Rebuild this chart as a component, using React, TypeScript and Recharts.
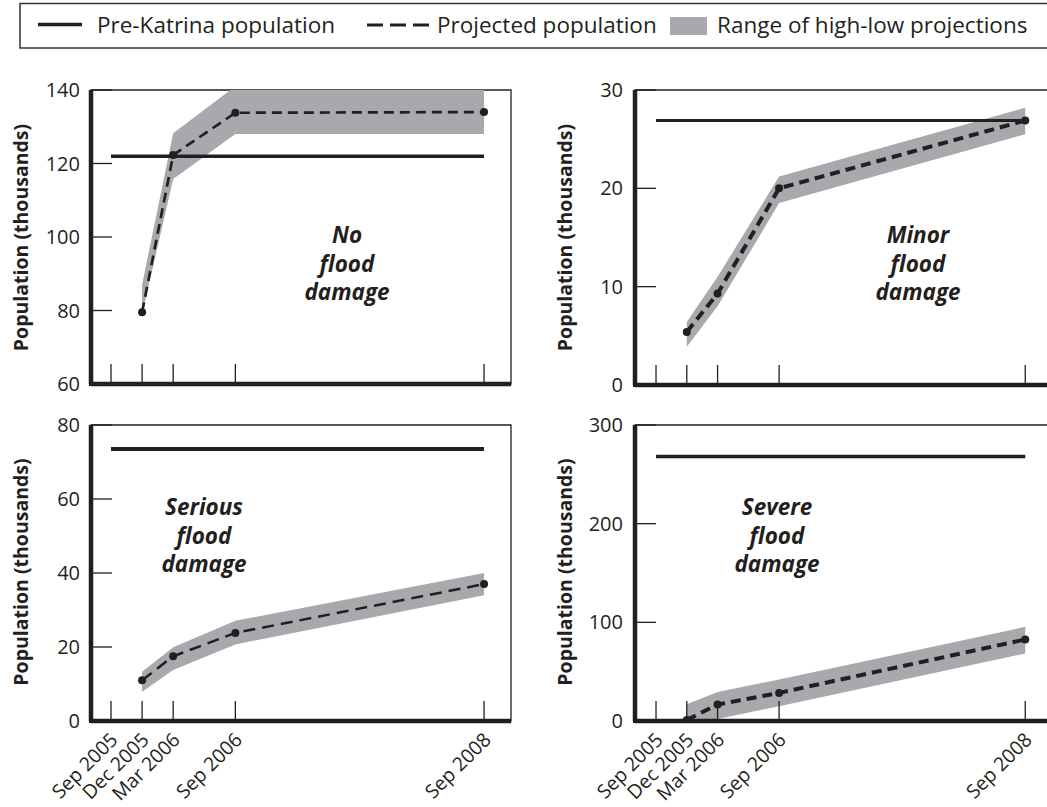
import React from 'react';
import { ComposedChart, Area, Line, XAxis, YAxis, ReferenceArea } from 'recharts';

// months after Sep 2005
const months = [0, 3, 6, 12, 36];
const monthLabels = ['Sep 2005', 'Dec 2005', 'Mar 2006', 'Sep 2006', 'Sep 2008'];

const noFloodPre = 122;
const noFloodProjected = [null, 79.5, 122.3, 133.8, 134];
const noFloodLow = [null, 79, 115.8, 128, 128];
const noFloodHigh = [null, 87, 128.2, 141, 141];

const minorPre = 26.9;
const minorProjected = [null, 5.4, 9.3, 20, 26.9];
const minorLow = [null, 3.9, 8, 18.5, 25.5];
const minorHigh = [null, 6.4, 11, 21.2, 28.2];

const seriousPre = 73.5;
const seriousProjected = [null, 11, 17.5, 23.8, 37];
const seriousLow = [null, 7.9, 13.8, 20.7, 34];
const seriousHigh = [null, 13.3, 19.9, 27.1, 40];

const severePre = 268;
const severeProjected = [null, 1, 16.7, 28.5, 82.6];
const severeLow = [null, 0, 2, 15, 68.4];
const severeHigh = [null, 17, 29.5, 42, 95.4];

const legendLabels = ['Pre-Katrina population', 'Projected population', 'Range of high-low projections'];
const yAxisTitle = 'Population (thousands)';

const INK = '#231f20';
const BAND = '#a7a9ac';
const FONT = '"Open Sans", sans-serif';

function buildRows(pre: number, projected: (number | null)[], low: (number | null)[], high: (number | null)[]) {
  return months.map((m, i) => ({
    month: m,
    pre,
    projected: projected[i],
    range: low[i] == null ? null : [low[i], high[i]],
  }));
}

const panels = [
  {
    key: 'no',
    title: ['No', 'flood', 'damage'],
    rows: buildRows(noFloodPre, noFloodProjected, noFloodLow, noFloodHigh),
    yDomain: [60, 140], yTicks: [60, 80, 100, 120, 140],
    left: 0, top: 60, width: 520, height: 340,
    margin: { top: 30, right: 9, bottom: 0, left: 0 },
    yAxisWidth: 91, xAxisHeight: 16, xDomain: [-1.93, 38.6],
    labelGap: 11, showX: false,
    preWidth: 3.5, projWidth: 2.7, dash: '10 6',
    titleX: 347, titleY: 243,
  },
  {
    key: 'minor',
    title: ['Minor', 'flood', 'damage'],
    rows: buildRows(minorPre, minorProjected, minorLow, minorHigh),
    yDomain: [0, 30], yTicks: [0, 10, 20, 30],
    left: 520, top: 60, width: 535, height: 340,
    margin: { top: 30, right: 0, bottom: 0, left: 0 },
    yAxisWidth: 115, xAxisHeight: 15, xDomain: [-2.05, 38.9],
    labelGap: 12, showX: false,
    preWidth: 3, projWidth: 4, dash: '10 6',
    titleX: 918, titleY: 243,
  },
  {
    key: 'serious',
    title: ['Serious', 'flood', 'damage'],
    rows: buildRows(seriousPre, seriousProjected, seriousLow, seriousHigh),
    yDomain: [0, 80], yTicks: [0, 20, 40, 60, 80],
    left: 0, top: 400, width: 520, height: 407,
    margin: { top: 25, right: 9, bottom: 0, left: 0 },
    yAxisWidth: 91, xAxisHeight: 86, xDomain: [-1.93, 38.6],
    labelGap: 11, showX: true,
    preWidth: 4, projWidth: 2.5, dash: '12 7',
    titleX: 204, titleY: 515,
  },
  {
    key: 'severe',
    title: ['Severe', 'flood', 'damage'],
    rows: buildRows(severePre, severeProjected, severeLow, severeHigh),
    yDomain: [0, 300], yTicks: [0, 100, 200, 300],
    left: 520, top: 400, width: 535, height: 407,
    margin: { top: 25, right: 0, bottom: 0, left: 0 },
    yAxisWidth: 115, xAxisHeight: 86, xDomain: [-2.05, 38.9],
    labelGap: 12, showX: true,
    preWidth: 3.5, projWidth: 4, dash: '10 6',
    titleX: 777, titleY: 515,
  },
];

const XTick = (props: any) => {
  const { x, y, payload, showLabel } = props;
  const label = monthLabels[months.indexOf(payload.value)];
  const tx = x + 8;
  const ty = y + 20;
  return (
    <g>
      <line x1={x} y1={y} x2={x} y2={y - 20} stroke={INK} strokeWidth={1.3} />
      {showLabel && (
        <text x={tx} y={ty} transform={`rotate(-45 ${tx} ${ty})`} textAnchor="end"
          fontSize={19.5} fill={INK} fontFamily={FONT}>{label}</text>
      )}
    </g>
  );
};

const YTick = (props: any) => {
  const { x, y, payload, gap } = props;
  return (
    <g>
      <line x1={x} y1={y} x2={x + 21} y2={y} stroke={INK} strokeWidth={1.3} />
      <text x={x - gap} y={y + 7} textAnchor="end" fontSize={20} fill={INK} fontFamily={FONT}>
        {payload.value}
      </text>
    </g>
  );
};

function Panel({ cfg }: { cfg: any }) {
  return (
    <div style={{ position: 'absolute', left: cfg.left, top: cfg.top }}>
      <ComposedChart width={cfg.width} height={cfg.height} data={cfg.rows} margin={cfg.margin}>
        <ReferenceArea x1={cfg.xDomain[0]} x2={cfg.xDomain[1]} y1={cfg.yDomain[0]} y2={cfg.yDomain[1]}
          fill="none" stroke={INK} strokeWidth={1.3} />
        <XAxis type="number" dataKey="month" domain={cfg.xDomain} allowDataOverflow ticks={months}
          interval={0} tickSize={0} tickMargin={0} tickLine={false}
          axisLine={{ stroke: INK, strokeWidth: 4.5 }}
          height={cfg.xAxisHeight}
          tick={(p: any) => <XTick {...p} showLabel={cfg.showX} />} />
        <YAxis type="number" domain={cfg.yDomain} allowDataOverflow ticks={cfg.yTicks} interval={0}
          width={cfg.yAxisWidth} tickSize={0} tickMargin={0} tickLine={false}
          axisLine={{ stroke: INK, strokeWidth: 4.5 }}
          tick={(p: any) => <YTick {...p} gap={cfg.labelGap} />} />
        <Area dataKey="range" type="linear" fill={BAND} fillOpacity={1} stroke="none"
          isAnimationActive={false} />
        <Line dataKey="pre" type="linear" stroke={INK} strokeWidth={cfg.preWidth} dot={false}
          isAnimationActive={false} />
        <Line dataKey="projected" type="linear" stroke={INK} strokeWidth={cfg.projWidth}
          strokeDasharray={cfg.dash} dot={{ r: 4, fill: INK, stroke: 'none' }}
          isAnimationActive={false} />
      </ComposedChart>
    </div>
  );
}

// heavy left/bottom frame of each panel, taken from the panel layout
function AxisFrame({ cfg }: { cfg: any }) {
  const x0 = cfg.left + cfg.margin.left + cfg.yAxisWidth;
  const x1 = cfg.left + cfg.width - cfg.margin.right;
  const y0 = cfg.top + cfg.margin.top;
  const y1 = cfg.top + cfg.height - cfg.margin.bottom - cfg.xAxisHeight;
  return (
    <path d={`M${x0} ${y0} L${x0} ${y1} L${x1} ${y1}`} fill="none" stroke={INK} strokeWidth={4}
      strokeLinejoin="miter" />
  );
}

export default function App() {
  return (
    <div style={{
      position: 'absolute', left: 0, top: 0, width: 1047, height: 807,
      overflow: 'hidden', background: '#fff', fontFamily: FONT,
    }}>
      {panels.map((cfg) => <Panel key={cfg.key} cfg={cfg} />)}
      <svg width={1047} height={807} style={{ position: 'absolute', left: 0, top: 0, pointerEvents: 'none' }}
        fontFamily={FONT}>
        {panels.map((cfg) => <AxisFrame key={cfg.key} cfg={cfg} />)}

        {/* legend */}
        <rect x={20} y={3.5} width={1100} height={44.5} fill="none" stroke="#333" strokeWidth={1.5} />
        <line x1={38} x2={82} y1={24.5} y2={24.5} stroke={INK} strokeWidth={3.5} />
        <text x={97} y={33} fontSize={22.5} fill={INK}>{legendLabels[0]}</text>
        <line x1={367} x2={430} y1={25} y2={25} stroke={INK} strokeWidth={3} strokeDasharray="16 7" />
        <text x={437} y={33} fontSize={22.5} fill={INK}>{legendLabels[1]}</text>
        <rect x={670} y={17} width={37} height={18} fill={BAND} />
        <text x={717} y={33} fontSize={22.5} fill={INK}>{legendLabels[2]}</text>

        {/* panel titles */}
        {panels.map((cfg) => (
          <text key={cfg.key} x={cfg.titleX} y={cfg.titleY} textAnchor="middle" fontSize={22.5}
            fontWeight="bold" fontStyle="italic" fill={INK}>
            {cfg.title.map((t: string, i: number) => (
              <tspan key={t} x={cfg.titleX} dy={i === 0 ? 0 : 28.5}>{t}</tspan>
            ))}
          </text>
        ))}

        {/* y axis titles */}
        {[[27.5, 237.5], [572, 237.5], [27.5, 572], [572, 572]].map(([x, y]) => (
          <text key={`${x}-${y}`} x={x} y={y} transform={`rotate(-90 ${x} ${y})`} textAnchor="middle"
            fontSize={19.5} fontWeight="bold" fill={INK}>{yAxisTitle}</text>
        ))}
      </svg>
    </div>
  );
}
